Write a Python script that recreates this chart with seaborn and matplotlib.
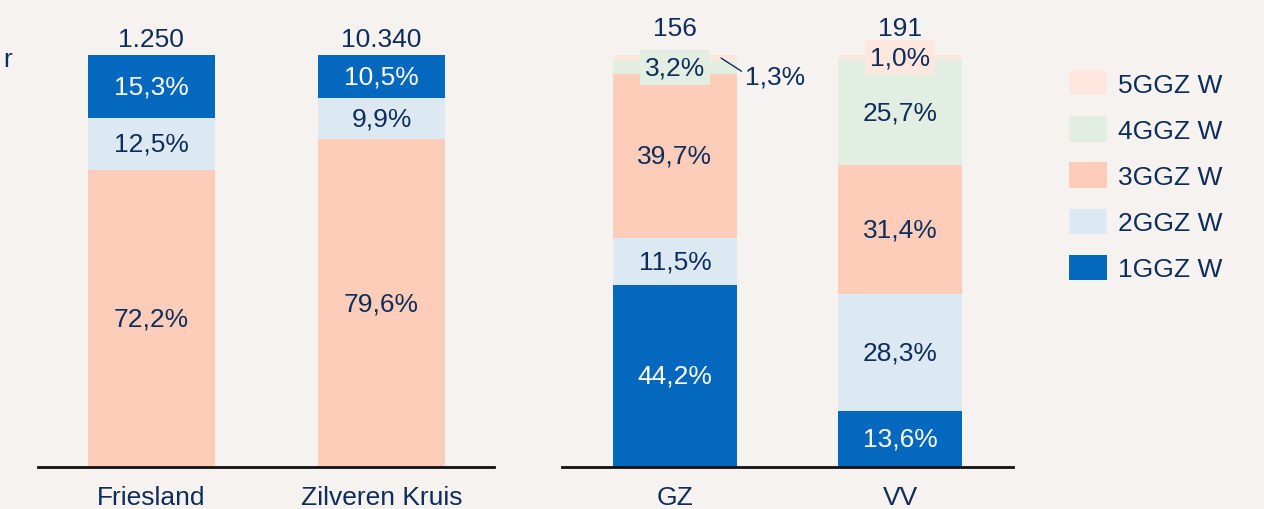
import pandas as pd
import matplotlib.pyplot as plt
import seaborn as sns
from matplotlib.patches import Patch

# ================= DATA =================
levels = ["1GGZ W", "2GGZ W", "3GGZ W", "4GGZ W", "5GGZ W"]
level_colors = ["#0468BF", "#DCE9F3", "#FECDB9", "#E2EEE1", "#FDE7DF"]

left_cats = ["Friesland", "Zilveren Kruis"]
left_totals = ["1.250", "10.340"]
left_1ggz = [15.3, 10.5]
left_2ggz = [12.5, 9.9]
left_3ggz = [72.2, 79.6]

right_cats = ["GZ", "VV"]
right_totals = ["156", "191"]
right_1ggz = [44.2, 13.6]
right_2ggz = [11.5, 28.3]
right_3ggz = [39.7, 31.4]
right_4ggz = [3.2, 25.7]
right_5ggz = [1.3, 1.0]

# ================= STYLE =================
bg = "#F5F2EF"
navy = "#0E2D5B"
sns.set_theme(style="white")
plt.rcParams['font.family'] = ['Liberation Sans', 'DejaVu Sans']
fs = 19
col = dict(zip(levels, level_colors))


def pct(v):
    return f"{v:.1f}%".replace(".", ",")


def draw_stack(ax, cats, layers, order, totals, total_offset, boxed=(), outside=()):
    df = pd.DataFrame(layers, index=cats)[order]
    cum = df.cumsum(axis=1)
    # draw cumulative bars from the top down so lower segments overwrite
    for lvl in reversed(order):
        sns.barplot(x=cats, y=cum[lvl].values, color=col[lvl], width=0.55,
                    saturation=1, linewidth=0, ax=ax)
    for i, cat in enumerate(cats):
        for lvl in order:
            v = df.loc[cat, lvl]
            mid = cum.loc[cat, lvl] - v / 2
            tc = "white" if lvl == "1GGZ W" else navy
            if (cat, lvl) in outside:
                # small segment: label beside the bar with a leader line
                ax.annotate(pct(v), xy=(i + 0.205, mid), xytext=(i + 0.31, mid - 4.4),
                            ha='left', va='center', fontsize=fs, color=navy,
                            arrowprops=dict(arrowstyle='-', color=navy, lw=1,
                                            shrinkA=0, shrinkB=0, relpos=(0, 0.62)))
            elif (cat, lvl) in boxed:
                ax.text(i, mid, pct(v), ha='center', va='center', fontsize=fs, color=navy,
                        bbox=dict(boxstyle='square,pad=0.2', fc=col[lvl], ec='none'))
            else:
                ax.text(i, mid, pct(v), ha='center', va='center', fontsize=fs, color=tc)
        ax.annotate(totals[i], xy=(i, cum.loc[cat].iloc[-1]), xytext=(0, total_offset),
                    textcoords='offset points', ha='center', va='baseline',
                    fontsize=fs, color=navy, annotation_clip=False)
    ax.set_ylim(0, 100)
    ax.set_yticks([])
    ax.set_xlabel('')
    ax.set_ylabel('')
    ax.set_facecolor(bg)
    sns.despine(ax=ax, left=True)
    ax.spines['bottom'].set_color('#111111')
    ax.spines['bottom'].set_linewidth(2)
    ax.tick_params(axis='x', length=0, pad=13, labelsize=fs, labelcolor=navy)


fig = plt.figure(figsize=(12.64, 5.10), dpi=100, facecolor=bg)
ax1 = fig.add_axes([38 / 1264, 42 / 510, 456 / 1264, 412 / 510])
ax2 = fig.add_axes([562 / 1264, 42 / 510, 451 / 1264, 412 / 510])

draw_stack(ax1, left_cats,
           {"1GGZ W": left_1ggz, "2GGZ W": left_2ggz, "3GGZ W": left_3ggz},
           ["3GGZ W", "2GGZ W", "1GGZ W"], left_totals, 6.5)
ax1.set_xlim(-0.493, 1.489)

draw_stack(ax2, right_cats,
           {"1GGZ W": right_1ggz, "2GGZ W": right_2ggz, "3GGZ W": right_3ggz,
            "4GGZ W": right_4ggz, "5GGZ W": right_5ggz},
           levels, right_totals, 14.5,
           boxed=[("GZ", "4GGZ W"), ("VV", "5GGZ W")],
           outside=[("GZ", "5GGZ W")])
ax2.set_xlim(-0.502, 1.502)

# legend, top level first
handles = [Patch(facecolor=col[l], edgecolor='none', label=l) for l in reversed(levels)]
fig.legend(handles=handles, loc='upper left', bbox_to_anchor=(1069 / 1264, 1 - 71 / 510),
           frameon=False, fontsize=fs, labelcolor=navy, handlelength=1.44,
           handleheight=1.1, handletextpad=0.42, labelspacing=0.74,
           borderpad=0, borderaxespad=0)

# cropped text fragment at the left edge
fig.text(3 / 1264, 1 - 60 / 510, "r", ha='left', va='center', fontsize=fs, color=navy)

fig.savefig("out.png", dpi=100, facecolor=bg)
